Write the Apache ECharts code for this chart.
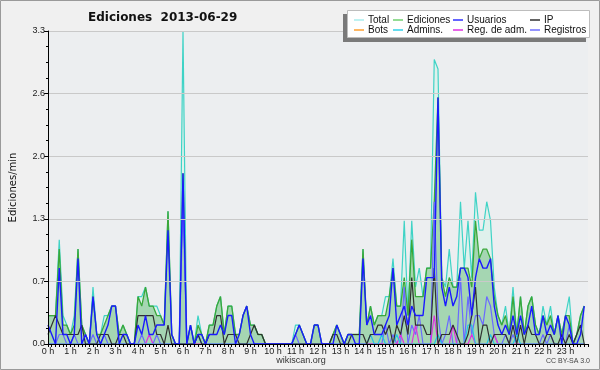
<!DOCTYPE html>
<html><head><meta charset="utf-8">
<script src="https://cdn.jsdelivr.net/npm/echarts/dist/echarts.min.js"></script>
<style>html,body{margin:0;padding:0;background:#f0f0f0}#c{width:600px;height:370px}</style>
</head><body><div id="c"></div>
<script>
const chartTitle = 'Ediciones  2013-06-29';
const seriesNames = ['Total','Ediciones','Usuarios','IP','Bots','Admins.','Reg. de adm.','Registros'];
// one value every 10 minutes, 6 per hour, 0 h .. 23 h 50
const total = [
 .3,.3,.3,1.1,.3,.2,  .1,.3,1.0,.2,.1,0,  .6,.1,.1,.3,.3,.4,  .4,.1,.2,.1,0,0,
 .5,.5,.6,.4,.4,.4,  .3,.2,1.4,.1,0,0,  3.3,0,.2,0,.3,.1,  0,.2,.2,.4,.5,.1,
 .4,.4,.1,.1,.3,.4,  .2,.2,.1,.1,0,0,  0,0,0,0,0,0,  .2,.2,.1,0,0,.2,
 .2,0,0,0,.1,.2,  .1,0,.1,.1,.1,.1,  1.0,.2,.4,.2,.3,.3,  .5,.5,.9,.4,.4,1.3,
 .3,1.3,.6,.8,.5,.8,  .8,3.0,2.9,.7,.6,1.0,  .6,.6,1.5,.8,1.3,.7,  1.6,1.2,1.2,1.5,1.3,.6,
 .3,.2,.4,.1,.6,.1,  .5,.1,.4,.5,.2,.1,  .4,.2,.4,.1,.3,.1,  .3,.5,0,.1,.3,.4
];
const ediciones = [
 .3,.3,.3,1.0,.2,.2,  .1,.2,1.0,.2,.1,0,  .5,.1,.1,.2,.3,.4,  .4,.1,.2,.1,0,0,
 .5,.4,.6,.4,.4,.3,  .3,.2,1.4,.1,0,0,  1.8,0,.2,0,.2,.1,  0,.2,.2,.4,.5,.1,
 .4,.4,.1,.1,.3,.4,  .2,.2,.1,.1,0,0,  0,0,0,0,0,0,  .1,.2,.1,0,0,.2,
 .2,0,0,0,.1,.2,  .1,0,.1,.1,.1,.1,  1.0,.2,.4,.2,.3,.3,  .3,.5,.8,.4,.4,.7,
 .3,1.1,.5,.5,.5,.8,  .8,1.5,2.6,.7,.5,.7,  .6,.6,.8,.8,.8,.6,  1.3,.9,1.0,1.0,.9,.5,
 .3,.2,.3,.1,.5,.1,  .5,.1,.4,.5,.2,.1,  .3,.2,.3,.1,.3,.1,  .3,.3,0,.1,.3,.4
];
const usuarios = [
 .2,.1,0,.8,.1,.1,  0,.1,.9,0,.1,0,  .5,.1,0,.1,.2,.4,  .4,0,.1,.1,0,0,
 .2,.1,.3,.1,.1,.2,  .2,.2,1.2,.1,0,0,  1.8,0,.2,0,.1,.1,  0,.1,.1,.1,.2,.1,
 .3,.3,0,.1,.3,.4,  .1,0,0,0,0,0,  0,0,0,0,0,0,  .1,.2,.1,0,0,.2,
 .2,0,0,0,0,.2,  .1,0,.1,.1,0,0,  .9,.2,.3,.1,.1,.1,  .2,.3,.8,.2,.3,.4,
 .2,.4,.3,.3,.3,.7,  .7,.7,2.6,.6,.4,.6,  .4,.5,.8,.8,.7,.3,  .7,.9,.8,.8,.9,.4,
 .2,.1,.2,.1,.3,.1,  .3,.1,.2,.4,.1,.1,  .3,.1,.2,.1,.3,0,  .3,.2,0,0,.1,.4
];
const ip = [
 .1,.2,.3,.2,.1,.1,  .1,.1,.1,.2,0,0,  0,0,.1,.1,.1,0,  0,.1,.1,0,0,0,
 .3,.3,.3,.3,.3,.1,  .1,0,.2,0,0,0,  0,0,0,0,.1,0,  0,.1,.1,.3,.3,0,
 .1,.1,.1,0,0,0,  .1,.2,.1,.1,0,0,  0,0,0,0,0,0,  0,0,0,0,0,0,
 0,0,0,0,.1,.1,  0,0,0,.1,.1,.1,  .1,0,.1,.1,.2,.2,  .1,.2,0,.2,.1,.3,
 .1,.7,.2,.2,.2,.1,  .1,.8,0,.1,.1,.1,  .2,.1,0,0,.1,.3,  .6,0,.2,.2,0,.1,
 .1,.1,.1,0,.2,0,  .2,0,.2,.1,.1,0,  0,.1,.1,0,0,.1,  0,.1,0,.1,.2,0
];
const bots = [
 0,0,0,0,0,0, 0,0,0,0,0,0, 0,0,0,0,0,0, 0,0,0,0,0,0,
 0,0,0,0,0,0, 0,0,0,0,0,0, 0,0,0,0,0,0, 0,0,0,0,0,0,
 0,0,0,0,0,0, 0,0,0,0,0,0, 0,0,0,0,0,0, 0,0,0,0,0,0,
 0,0,0,0,0,0, 0,0,0,0,0,0, 0,0,0,0,0,0, 0,0,0,0,0,0,
 0,0,0,0,0,0, 0,0,0,0,0,0, 0,0,0,0,0,0, 0,0,0,0,0,0,
 0,0,0,0,0,0, 0,0,0,0,0,0, 0,0,0,0,0,0, 0,0,0,0,0,0
];
const admins = [
 0,0,0,0,0,0, 0,0,0,0,0,0, 0,0,0,0,0,0, 0,0,0,0,0,0,
 0,0,0,0,0,0, 0,0,0,0,0,0, 0,0,0,0,.1,0, 0,0,0,0,0,0,
 0,0,0,0,0,0, 0,0,0,0,0,0, 0,0,0,0,0,0, 0,0,0,0,0,0,
 0,0,0,0,0,0, 0,0,0,0,0,0, 0,0,.1,0,0,.1, 0,0,0,.1,0,0,
 0,0,0,0,0,0, 0,0,.1,0,0,0, 0,0,0,0,.2,.2, 0,0,0,0,.1,0,
 0,0,0,0,0,.1, 0,0,0,0,0,0, 0,0,0,0,0,0, 0,0,0,0,0,0
];
const regAdm = [
 0,0,0,0,0,0, 0,0,0,0,0,0, 0,0,0,0,0,0, 0,0,0,0,0,0,
 0,0,0,.1,0,0, 0,0,0,0,0,0, 0,0,0,0,0,0, 0,0,0,0,0,0,
 0,0,0,0,0,0, 0,0,0,0,0,0, 0,0,0,0,0,0, 0,0,0,0,0,0,
 0,0,0,0,0,0, 0,0,0,0,0,0, 0,0,0,0,0,0, 0,0,0,0,.1,0,
 0,0,.2,0,0,0, 0,.3,0,0,0,0, .2,0,0,0,0,.1, 0,0,0,0,0,.1,
 0,0,0,0,0,0, 0,0,0,0,0,0, 0,0,0,0,0,0, 0,0,0,0,0,0
];
const registros = [
 0,0,0,.1,.1,0, 0,.1,0,0,0,0, .1,0,0,.1,0,0, 0,0,0,0,0,0,
 0,.1,0,0,0,.1, 0,0,0,0,0,0, 1.5,0,0,0,.1,0, 0,0,0,0,0,0,
 0,0,0,0,0,0, 0,0,0,0,0,0, 0,0,0,0,0,0, .1,0,0,0,0,0,
 0,0,0,0,0,0, 0,0,0,0,0,0, 0,0,0,0,0,0, .2,0,.1,0,0,.6,
 0,.2,.1,.3,0,0, 0,1.5,.3,0,.1,.3, 0,0,.7,0,.5,.1, .3,.3,.2,.5,.4,.1,
 0,0,.1,0,.1,0, 0,0,0,0,0,0, .1,0,.1,0,0,0, 0,.2,0,0,0,0
];

const colors = {
  'Total':'#3fd3c6','Ediciones':'#3aa83a','Usuarios':'#1a1aff','IP':'#303030',
  'Bots':'#ffa030','Admins.':'#22c4e6','Reg. de adm.':'#e030e0','Registros':'#6a6aff'
};
const legendColors = {
  'Total':'#a8eeee','Ediciones':'#70d070','Usuarios':'#3030ff','IP':'#303030',
  'Bots':'#ffa030','Admins.':'#30d0e8','Reg. de adm.':'#e030e0','Registros':'#7070ff'
};
const pairs = arr => arr.map((v, i) => [i / 6, v]);

function lineSeries(name, arr, z, extra) {
  return Object.assign({
    name, type:'line', data: pairs(arr), symbol:'none', showSymbol:false, z,
    color: legendColors[name],
    lineStyle:{color: colors[name], width:1.2},
    animation:false
  }, extra || {});
}

const chart = echarts.init(document.getElementById('c'), null, {renderer:'canvas'});
const legendBase = {
  orient:'vertical', top:15, itemWidth:10, itemHeight:1.5, itemGap:0, padding:0, z:40,
  icon:'rect', selectedMode:false,
  textStyle:{fontSize:10, fontFamily:'Liberation Sans', color:'#111', lineHeight:10, padding:[0,0,0,-1]}
};
chart.setOption({
  backgroundColor:'#f0f0f0',
  animation:false,
  title:{text: chartTitle, left:88, top:12, padding:0,
    textStyle:{fontSize:12, fontWeight:'bold', fontFamily:'DejaVu Sans', color:'#111'}},
  legend:[
    Object.assign({}, legendBase, {left:354, data:['Total','Bots']}),
    Object.assign({}, legendBase, {left:393, data:['Ediciones','Admins.']}),
    Object.assign({}, legendBase, {left:453, data:['Usuarios','Reg. de adm.']}),
    Object.assign({}, legendBase, {left:530, data:['IP','Registros']})
  ],
  grid:{left:46, right:12, top:31, bottom:26, show:true, backgroundColor:'#eceef0', borderWidth:0},
  xAxis:{type:'value', min:0, max:24, interval:1, z:10,
    axisLine:{lineStyle:{color:'#000', width:1}},
    axisTick:{show:true, length:3, lineStyle:{color:'#000'}},
    minorTick:{show:true, splitNumber:6, length:3, lineStyle:{color:'#000'}},
    splitLine:{show:false},
    axisLabel:{formatter: v => v === 24 ? '' : v + ' h', fontSize:9, color:'#222', margin:3, fontFamily:'Liberation Sans'}
  },
  yAxis:{type:'value', min:0, max:3.3, interval:0.66, z:10,
    name:'Ediciones/min', nameLocation:'middle', nameGap:30,
    nameTextStyle:{fontSize:10, fontFamily:'DejaVu Sans', color:'#111'},
    axisLine:{show:true, lineStyle:{color:'#000', width:1}},
    axisTick:{show:true, length:4, lineStyle:{color:'#000'}},
    minorTick:{show:true, splitNumber:4, length:2, lineStyle:{color:'#000'}},
    splitLine:{show:true, lineStyle:{color:'#c9c9c9', width:1}},
    axisLabel:{formatter: v => v.toFixed(1), fontSize:9, color:'#222', margin:3, fontFamily:'Liberation Sans'}
  },
  graphic:[
    {type:'rect', shape:{x:0.5, y:0.5, width:599, height:369}, style:{fill:'none', stroke:'#9a9a9a', lineWidth:1}, z:100, silent:true},
    {type:'rect', shape:{x:343, y:14, width:243, height:28}, style:{fill:'#7a7a7a'}, z:20, silent:true},
    {type:'rect', shape:{x:347.5, y:10.5, width:242, height:27}, style:{fill:'#ffffff', stroke:'#bdbdbd', lineWidth:1}, z:21, silent:true},
    {type:'text', x:301, y:356, style:{text:'wikiscan.org', fontSize:9, fontFamily:'Liberation Sans', fill:'#333', align:'center'}, z:30, silent:true},
    {type:'text', x:590, y:358, style:{text:'CC BY-SA 3.0', fontSize:7, fontFamily:'Liberation Sans', fill:'#444', align:'right'}, z:30, silent:true}
  ],
  series:[
    lineSeries('Total', total, 2, {areaStyle:{color:'rgba(205,245,232,0.6)', origin:'start'}, lineStyle:{color:colors['Total'], width:1.2}}),
    lineSeries('Ediciones', ediciones, 3, {areaStyle:{color:'rgba(60,165,70,0.5)', origin:'start'}, lineStyle:{color:colors['Ediciones'], width:1.3}}),
    lineSeries('Bots', bots, 1),
    lineSeries('Registros', registros, 4),
    lineSeries('Reg. de adm.', regAdm, 5),
    lineSeries('Admins.', admins, 5),
    lineSeries('IP', ip, 6),
    lineSeries('Usuarios', usuarios, 7, {lineStyle:{color:colors['Usuarios'], width:1.4}})
  ]
});
</script>
</body></html>
